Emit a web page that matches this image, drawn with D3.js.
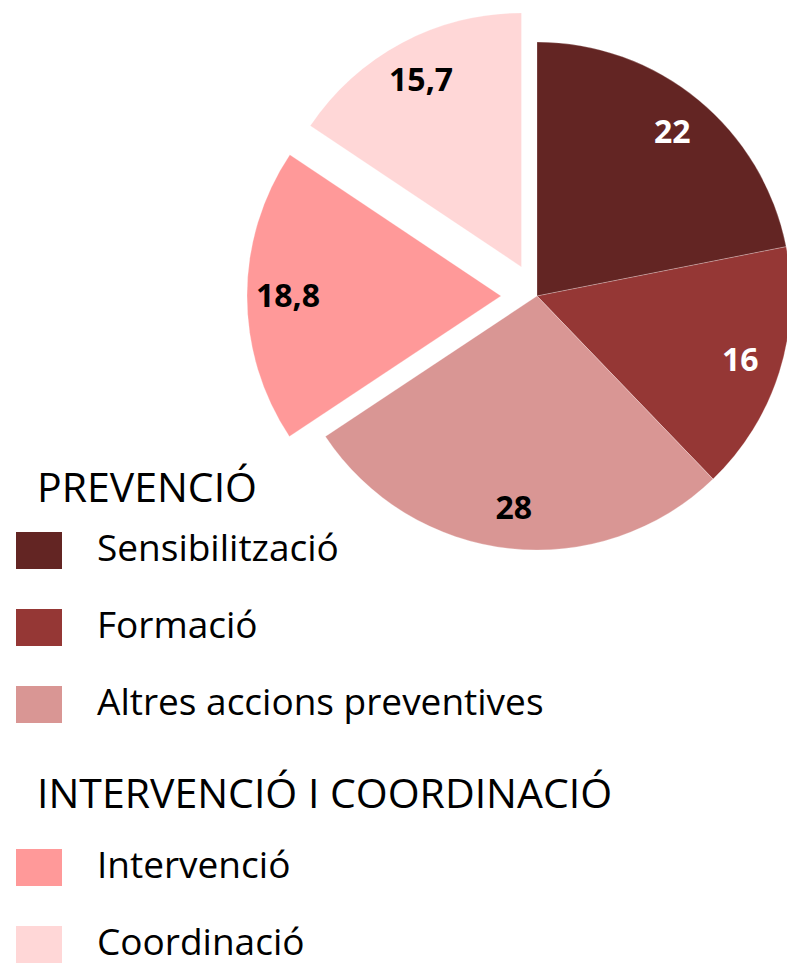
<!DOCTYPE html>
<html>
<head>
<meta charset="utf-8">
<script src="https://cdn.jsdelivr.net/npm/d3@7"></script>
<style>
  body { margin: 0; background: #fff; }
</style>
</head>
<body>
<div id="container"></div>
<script>

// data
let categories = ["Sensibilització", "Formació", "Altres accions preventives", "Intervenció", "Coordinació"];
let values = [22, 16, 28, 18.8, 15.7];
let valueLabels = ["22", "16", "28", "18,8", "15,7"];
let groups = ["PREVENCIÓ", "PREVENCIÓ", "PREVENCIÓ", "INTERVENCIÓ I COORDINACIÓ", "INTERVENCIÓ I COORDINACIÓ"];

let w = 787;
let h = 963;
let cx = 537;
let cy = 296;
let radius = 254;

let colors = d3.scaleOrdinal()
  .domain(categories)
  .range(["#632523", "#953735", "#d99694", "#ff9999", "#ffd7d7"]);

let labelColors = d3.scaleOrdinal()
  .domain(categories)
  .range(["#fff", "#fff", "#000", "#000", "#000"]);

// how far the two "intervenció" slices are pulled out
let explode = {"Intervenció": 36, "Coordinació": 33};

let viz = d3.select("#container")
  .append("svg")
    .attr("width", w)
    .attr("height", h)
    .style("font-family", "'Open Sans', sans-serif");

let table = categories.map((c, i) => ({name: c, value: values[i], label: valueLabels[i], group: groups[i]}));

let pie = d3.pie()
  .sort(null)
  .value(d => d.value);

let arc = d3.arc()
  .innerRadius(0)
  .outerRadius(radius);

let labelArc = d3.arc()
  .innerRadius(213)
  .outerRadius(213);

let arcs = pie(table);

function shift(d){
  let off = explode[d.data.name] || 0;
  let mid = (d.startAngle + d.endAngle) / 2;
  return [Math.sin(mid) * off, -Math.cos(mid) * off];
}

let slices = viz.append("g")
    .attr("transform", "translate(" + cx + "," + cy + ")")
  .selectAll("g")
  .data(arcs)
  .join("g")
    .attr("transform", d => "translate(" + shift(d) + ")");

slices.append("path")
  .attr("d", arc)
  .attr("fill", d => colors(d.data.name))
  .attr("stroke", "#fff")
  .attr("stroke-opacity", 0.35)
  .attr("stroke-width", 0.7);

slices.append("text")
  .attr("transform", d => "translate(" + labelArc.centroid(d) + ")")
  .attr("text-anchor", "middle")
  .attr("dy", "0.36em")
  .attr("font-size", 32)
  .attr("font-weight", "bold")
  .attr("fill", d => labelColors(d.data.name))
  .text(d => d.data.label);

// legend
let legend = viz.append("g");
let groupNames = Array.from(new Set(groups));
let headerY = {"PREVENCIÓ": 502, "INTERVENCIÓ I COORDINACIÓ": 808};
let swatchTop = [532, 609, 686, 849, 926];

legend.selectAll("text.header")
  .data(groupNames)
  .join("text")
    .attr("class", "header")
    .attr("x", 37)
    .attr("y", d => headerY[d])
    .attr("font-size", 41)
    .attr("fill", "#000")
    .text(d => d);

let items = legend.selectAll("g.item")
  .data(table)
  .join("g")
    .attr("class", "item")
    .attr("transform", (d, i) => "translate(0," + swatchTop[i] + ")");

items.append("rect")
  .attr("x", 16)
  .attr("y", 0)
  .attr("width", 46)
  .attr("height", 37)
  .attr("fill", d => colors(d.name));

items.append("text")
  .attr("x", 97)
  .attr("y", 29)
  .attr("font-size", 37)
  .attr("fill", "#000")
  .text(d => d.name);

</script>
</body>
</html>
